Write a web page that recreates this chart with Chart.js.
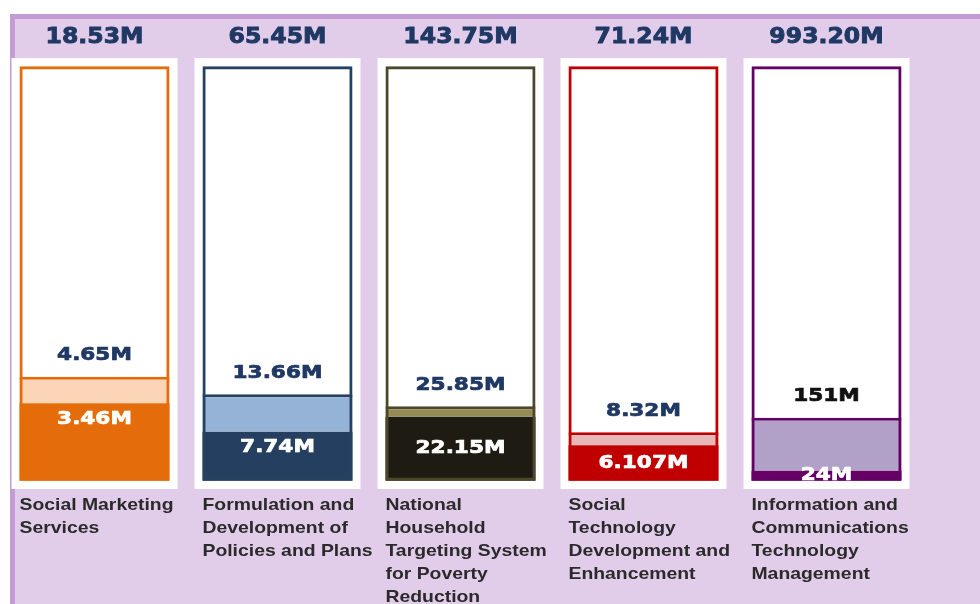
<!DOCTYPE html>
<html>
<head>
<meta charset="utf-8">
<script src="https://cdn.jsdelivr.net/npm/chart.js@4.4.1/dist/chart.umd.min.js"></script>
<style>
  html,body{margin:0;padding:0;background:#fff;}
  #wrap{position:relative;width:980px;height:604px;overflow:hidden;}
  #bg{position:absolute;left:10px;top:14px;right:0;bottom:0;background:#e1cce9;border-top:5px solid #c49bd5;border-left:5px solid #c49bd5;}
  canvas{position:absolute;left:0;top:0;}
</style>
</head>
<body>
<div id="wrap"><div id="bg"></div><canvas id="chart" width="980" height="604"></canvas></div>
<script>
// data, in millions
const categories = [
  ['Social Marketing','Services'],
  ['Formulation and','Development of','Policies and Plans'],
  ['National','Household','Targeting System','for Poverty','Reduction'],
  ['Social','Technology','Development and','Enhancement'],
  ['Information and','Communications','Technology','Management']
];
const totals    = [18.53, 65.45, 143.75, 71.24, 993.20];
const obligated = [4.65, 13.66, 25.85, 8.32, 151];
const disbursed = [3.46, 7.74, 22.15, 6.107, 24];
const totalLabels     = ['18.53M','65.45M','143.75M','71.24M','993.20M'];
const obligatedLabels = ['4.65M','13.66M','25.85M','8.32M','151M'];
const disbursedLabels = ['3.46M','7.74M','22.15M','6.107M','24M'];

// styles
const frameColors = ['#e46c0a','#254061','#4c472b','#c00000','#650067'];
const darkColors  = ['#e46c0a','#243f60','#1e1c12','#c00000','#660066'];
const lightColors = ['#fbd5b5','#95b3d7','#958b55','#e6b9b8','#b1a0c7'];
const oblTextColors = ['#1f3864','#1f3864','#1f3864','#1f3864','#111111'];
const darkLabelAt = ['top','top','mid','mid','mid'];

const darkPct  = disbursed.map((v,i)=>v/totals[i]*100);
const lightPct = obligated.map((v,i)=>(v-disbursed[i])/totals[i]*100);
const fullRange = totals.map(()=>[0,100]);
const cardRange = totals.map(()=>[-2,102]);

function drawText(ctx, text, x, y, font, color, sx, align, heavy){
  ctx.save();
  ctx.font = font; ctx.fillStyle = color; ctx.textBaseline = 'middle'; ctx.textAlign = align || 'center';
  ctx.translate(x, y); ctx.scale(sx, 1);
  ctx.fillText(text, 0, 0);
  if(heavy){ ctx.strokeStyle = color; ctx.lineWidth = heavy; ctx.strokeText(text, 0, 0); }
  ctx.restore();
}

const textPlugin = {
  id:'texts',
  afterDatasetsDraw(chart){
    const ctx = chart.ctx;
    const frames = chart.getDatasetMeta(0).data;
    const darks = chart.getDatasetMeta(1).data;
    const lights = chart.getDatasetMeta(2).data;
    categories.forEach((lines,i)=>{
      const f = frames[i], d = darks[i], l = lights[i];
      const left = f.x - f.width/2;
      drawText(ctx, totalLabels[i], f.x, f.y - 29, 'bold 22px "DejaVu Sans"', '#1f3864', 1.07, 'center', 0.9);
      drawText(ctx, obligatedLabels[i], f.x, l.y - 21, 'bold 18px "DejaVu Sans"', oblTextColors[i], 1.2, 'center', 0.7);
      const dy = darkLabelAt[i] === 'top' ? d.y + 16 : (d.y + d.base)/2;
      drawText(ctx, disbursedLabels[i], f.x, dy, 'bold 18px "DejaVu Sans"', '#ffffff', 1.2, 'center', 0.7);
      lines.forEach((t,k)=>{
        drawText(ctx, t, left, chart.chartArea.bottom + 16 + k*23, 'bold 17px "Liberation Sans"', '#2a2a2a', 1.14, 'left');
      });
    });
  }
};

const hiddenX = { type:'category', offset:true, display:false, grid:{display:false} };
const hiddenY = { min:-2, max:102, display:false, grid:{display:false} };
const barBase = { grouped:false, categoryPercentage:1, barPercentage:0.82 };

new Chart(document.getElementById('chart'), {
  type:'bar',
  data:{
    labels: categories.map(c=>c.join(' ')),
    datasets:[
      { ...barBase, label:'frame', data:fullRange, xAxisID:'xf', yAxisID:'y2', backgroundColor:'rgba(0,0,0,0)',
        borderColor:frameColors, borderWidth:3, borderSkipped:false, order:0 },
      { ...barBase, label:'disbursed', data:darkPct, xAxisID:'x', yAxisID:'y', backgroundColor:darkColors,
        borderWidth:0, order:2 },
      { ...barBase, label:'obligated', data:lightPct, xAxisID:'x', yAxisID:'y', backgroundColor:lightColors,
        borderColor:frameColors, borderWidth:{top:3,left:0,right:0,bottom:0}, borderSkipped:false, order:2 },
      { ...barBase, label:'card', data:cardRange, xAxisID:'xc', yAxisID:'y2', backgroundColor:'#ffffff',
        borderWidth:0, barPercentage:0.907, order:5 }
    ]
  },
  options:{
    responsive:false,
    animation:false,
    layout:{ padding:{ left:3, right:62, top:58, bottom:115 } },
    plugins:{ legend:{display:false}, tooltip:{enabled:false} },
    scales:{
      x:{...hiddenX, stacked:true},
      xf:{...hiddenX},
      xc:{...hiddenX},
      y:{...hiddenY, stacked:true},
      y2:{...hiddenY}
    }
  },
  plugins:[textPlugin]
});
</script>
</body>
</html>
